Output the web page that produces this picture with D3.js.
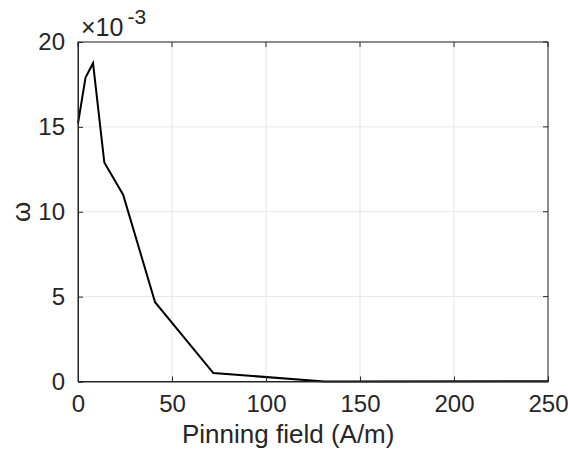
<!DOCTYPE html>
<html><head><meta charset="utf-8">
<script src="https://cdn.jsdelivr.net/npm/d3@7"></script>
<style>body{margin:0;background:#fff}svg{display:block}text{font-family:"Liberation Sans",Arial,sans-serif}</style>
</head><body><div id="chart"></div>
<script>
const pinningField = [0, 4, 8, 14, 24, 41, 72, 131, 250];
const omega = [15.2e-3, 17.9e-3, 18.75e-3, 12.9e-3, 11.0e-3, 4.67e-3, 0.5e-3, 0.0, 0.02e-3];
const xTicks = [0, 50, 100, 150, 200, 250];
const yTicks = [0, 5, 10, 15, 20];
const xLabel = "Pinning field (A/m)";
const yLabel = "\u03c9";

const W = 568, H = 455;
const m = {left: 78, right: 20, top: 42, bottom: 73.5};
const svg = d3.select("#chart").append("svg").attr("width", W).attr("height", H);
const iw = W - m.left - m.right, ih = H - m.top - m.bottom;
const x = d3.scaleLinear().domain([0, 250]).range([0, iw]);
const y = d3.scaleLinear().domain([0, 20e-3]).range([ih, 0]);
const g = svg.append("g").attr("transform", `translate(${m.left},${m.top})`);
const font = "Liberation Sans, Arial, sans-serif";

// grid
g.selectAll(".gx").data(xTicks).join("line")
  .attr("x1", d => x(d)).attr("x2", d => x(d)).attr("y1", 0).attr("y2", ih)
  .attr("stroke", "#e6e6e6").attr("stroke-width", 1);
g.selectAll(".gy").data(yTicks).join("line")
  .attr("x1", 0).attr("x2", iw).attr("y1", d => y(d * 1e-3)).attr("y2", d => y(d * 1e-3))
  .attr("stroke", "#e6e6e6").attr("stroke-width", 1);

// line
g.append("path").datum(pinningField.map((v, i) => [v, omega[i]]))
  .attr("fill", "none").attr("stroke", "#000").attr("stroke-width", 2)
  .attr("stroke-linejoin", "miter")
  .attr("d", d3.line().x(d => x(d[0])).y(d => y(d[1])));

// box
g.append("rect").attr("x", 0).attr("y", 0).attr("width", iw).attr("height", ih)
  .attr("fill", "none").attr("stroke", "#262626").attr("stroke-width", 1);

const xa = g.append("g").attr("transform", `translate(0,${ih})`)
  .call(d3.axisBottom(x).tickValues(xTicks).tickSize(-5).tickPadding(13).tickFormat(d3.format("d")));
xa.select(".domain").attr("stroke", "#262626");
xa.selectAll("line").attr("stroke", "#262626");
xa.selectAll("text").attr("fill", "#262626").style("font-size", "24px").style("font-family", font);

const ya = g.append("g")
  .call(d3.axisLeft(y).tickValues(yTicks.map(d => d * 1e-3)).tickSize(-5).tickPadding(13).tickFormat(d => Math.round(d * 1e3)));
ya.select(".domain").attr("stroke", "#262626");
ya.selectAll("line").attr("stroke", "#262626");
ya.selectAll("text").attr("fill", "#262626").style("font-size", "24px").style("font-family", font);

// top/right ticks
g.selectAll(".tt").data(xTicks).join("line")
  .attr("x1", d => x(d)).attr("x2", d => x(d)).attr("y1", 0).attr("y2", 5).attr("stroke", "#262626");
g.selectAll(".rt").data(yTicks).join("line")
  .attr("x1", iw).attr("x2", iw - 5).attr("y1", d => y(d * 1e-3)).attr("y2", d => y(d * 1e-3)).attr("stroke", "#262626");

// exponent
const ex = svg.append("text").attr("x", m.left + 3).attr("y", 36)
  .attr("fill", "#262626").style("font-size", "25px");
ex.append("tspan").text("\u00d710");
ex.append("tspan").attr("dy", -12).attr("dx", 4).style("font-size", "21px").text("-3");

svg.append("text").attr("x", 182).attr("y", 443)
  .attr("text-anchor", "start").attr("fill", "#262626").style("font-size", "26px").text(xLabel);
svg.append("text").attr("transform", `translate(29.5,${m.top + ih / 2}) rotate(-90)`)
  .attr("text-anchor", "middle").attr("fill", "#262626").style("font-size", "26px").text(yLabel);
</script></body></html>
